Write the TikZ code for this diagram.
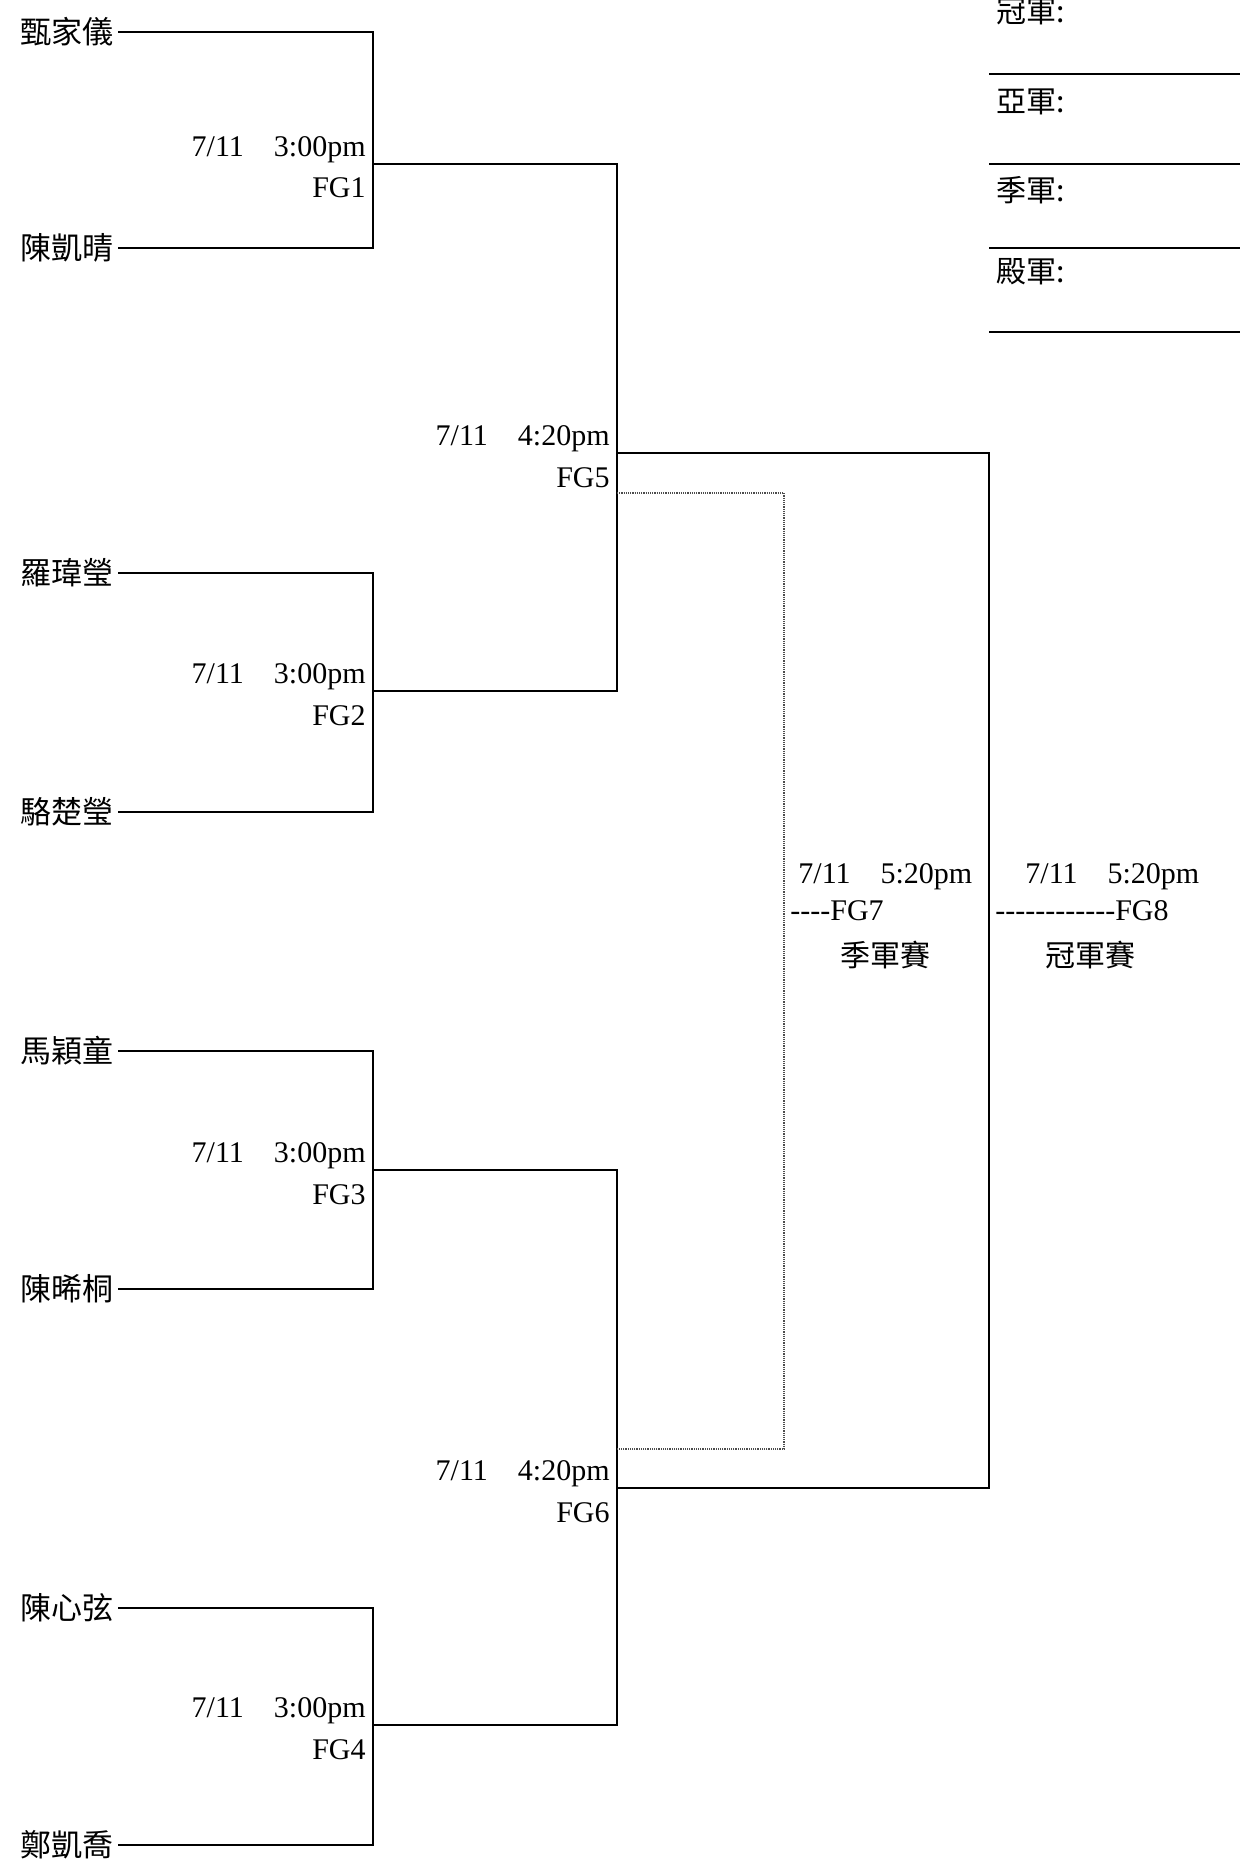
\documentclass[tikz,border=0pt]{standalone}
\usepackage{fontspec}
\setmainfont{Liberation Serif}
\newfontfamily\cjk{Noto Sans CJK TC}
\usepackage{tikz}
\usetikzlibrary{calc, positioning}

\begin{document}
\begin{tikzpicture}[x=0.5pt, y=-0.5pt,
    font=\fontsize{15}{18}\selectfont,
    player/.style={anchor=east, inner sep=2pt, font=\fontsize{15.5}{18}\selectfont\cjk},
    cjklbl/.style={inner sep=0pt, font=\fontsize{15}{18}\selectfont\cjk},
    bracket/.style={line width=1.4pt},
    bronze/.style={line width=1pt, gray!60!black, dash pattern=on 0.6pt off 0.5pt},
    gamelbl/.style={anchor=base east, inner sep=0pt},
    finallbl/.style={anchor=base west, inner sep=0pt}]

    \useasboundingbox (0,0) rectangle (1240,1868);

    % 選手
    \foreach \name/\y [count=\i] in {甄家儀/32, 陳凱晴/248, 羅瑋瑩/573, 駱楚瑩/812, 馬穎童/1051, 陳晞桐/1289, 陳心弦/1608, 鄭凱喬/1845} {
        \node[player] (p\i) at (118,\y) {\name};
    }

    % 各場交點
    \coordinate (m1) at (373,164);
    \coordinate (m2) at (373,691);
    \coordinate (m3) at (373,1170);
    \coordinate (m4) at (373,1725);
    \coordinate (m5) at (617,453);
    \coordinate (m6) at (617,1488);
    \coordinate (m7) at (784,970);
    \coordinate (m8) at (989,970);
    \coordinate (d5) at (617,493);
    \coordinate (d6) at (617,1449);

    % 第一輪
    \foreach \a/\b/\m in {p1/p2/m1, p3/p4/m2, p5/p6/m3, p7/p8/m4}
        \draw[bracket] (\a.east) -| (\m) |- (\b.east);

    % 準決賽
    \draw[bracket] (m1) -| (m5) |- (m2);
    \draw[bracket] (m3) -| (m6) |- (m4);

    % 冠軍賽
    \draw[bracket] (m5) -| (m8) |- (m6);

    % 季軍賽
    \draw[bronze] (d5) -| (m7) |- (d6);

    % 場次
    \foreach \m/\t/\g in {m1/3:00pm/FG1, m2/3:00pm/FG2, m3/3:00pm/FG3, m4/3:00pm/FG4, m5/4:20pm/FG5, m6/4:20pm/FG6} {
        \node[gamelbl] (t\g) at ([shift={(-7,-8)}]\m) {7/11~~~~\t};
        \node[gamelbl] (c\g) at ([shift={(-7,34)}]\m) {\g};
    }

    \node[finallbl] (tFG7) at (798,883) {7/11~~~~5:20pm};
    \node[finallbl] (cFG7) at (790,920) {-{}-{}-{}-FG7};
    \node[cjklbl] (nFG7) at (885,955) {季軍賽};

    \node[finallbl] (tFG8) at (1025,883) {7/11~~~~5:20pm};
    \node[finallbl] (cFG8) at (995,920) {-{}-{}-{}-{}-{}-{}-{}-{}-{}-{}-{}-FG8};
    \node[cjklbl] (nFG8) at (1090,955) {冠軍賽};

    % 名次
    \foreach \lbl/\y [count=\i] in {冠軍/12, 亞軍/102, 季軍/190, 殿軍/272} {
        \node[cjklbl, anchor=west] (r\i) at (996,\y) {\lbl:};
    }
    \foreach \y in {74,164,248,332}
        \draw[bracket] (989,\y) -- (1240,\y);
\end{tikzpicture}
\end{document}
